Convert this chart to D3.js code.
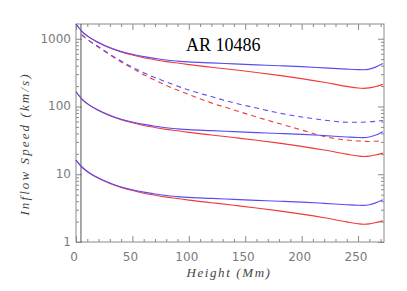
<!DOCTYPE html>
<html>
<head>
<meta charset="utf-8">
<script src="https://cdn.jsdelivr.net/npm/d3@7"></script>
<style>
  body { margin: 0; background: #fff; }
  svg { display: block; }
</style>
</head>
<body>
<svg id="chart" width="407" height="291"></svg>
<script>
// heights (Mm) for the solid curves
var heights = [0, 5, 10, 20, 30, 40, 50, 60, 70, 80, 90, 100, 120, 140, 160, 180, 200, 220, 240, 250, 255, 260, 265, 272];

var topBlue = [1650, 1300, 1100, 880, 740, 650, 590, 545, 512, 485, 468, 455, 440, 425, 412, 400, 388, 372, 356, 350, 349, 356, 378, 430];
var topRed = [1650, 1300, 1100, 870, 730, 640, 575, 525, 490, 460, 438, 415, 380, 348, 318, 288, 258, 228, 198, 187, 185, 188, 195, 212];

var midBlue = [165, 130, 110, 88, 74, 65, 59, 54.5, 51.2, 48.5, 46.8, 45.5, 44, 42.5, 41.2, 40, 38.8, 37.2, 35.5, 34.8, 34.7, 35.5, 37.5, 42.5];
var midRed = [165, 130, 110, 87, 73, 64, 57.5, 52.5, 49, 46, 43.8, 41.5, 38, 34.8, 31.8, 28.8, 25.8, 22.8, 19.8, 18.6, 18.3, 18.5, 19.2, 20.5];

var lowBlue = [16.2, 12.9, 11.0, 8.8, 7.4, 6.5, 5.9, 5.45, 5.12, 4.85, 4.68, 4.55, 4.4, 4.25, 4.12, 4.0, 3.88, 3.72, 3.55, 3.48, 3.47, 3.55, 3.75, 4.2];
var lowRed = [16.2, 12.9, 11.0, 8.7, 7.3, 6.4, 5.75, 5.25, 4.9, 4.6, 4.38, 4.15, 3.8, 3.48, 3.18, 2.88, 2.58, 2.28, 1.98, 1.86, 1.83, 1.85, 1.92, 2.05];

// heights (Mm) for the dashed curves
var dashHeights = [5, 10, 20, 30, 40, 50, 60, 80, 100, 120, 140, 160, 180, 200, 220, 240, 250, 260, 272];
var dashBlue = [1150, 980, 760, 590, 470, 380, 315, 230, 175, 140, 113, 95, 80, 70, 63, 58.5, 58.5, 59.5, 62];
var dashRed = [1150, 980, 750, 580, 455, 365, 295, 205, 150, 113, 89, 70, 56, 45, 36, 32, 31, 30.5, 31.3];

var xTicks = [0, 50, 100, 150, 200, 250];
var yTicks = [1, 10, 100, 1000];
var markerHeight = 4.4;

var svg = d3.select("#chart"),
    MARGINS = { top: 24, right: 23, bottom: 49, left: 76 },
    WIDTH = 407,
    HEIGHT = 291;

var xScale = d3.scaleLinear()
    .domain([0, 273])
    .range([MARGINS.left, WIDTH - MARGINS.right]);

var yScale = d3.scaleLog()
    .domain([1, 1650])
    .range([HEIGHT - MARGINS.bottom, MARGINS.top]);

var axisColor = "#8a8a8a";

// y ticks: majors and log minors, inward on both sides
var minors = [];
[1, 10, 100, 1000].forEach(function (d) {
    for (var k = 2; k <= 9; k++) {
        if (d * k <= 1650) minors.push(d * k);
    }
});

var yAxisL = d3.axisRight(yScale).tickValues(yTicks).tickSize(6).tickFormat("");
var yAxisLm = d3.axisRight(yScale).tickValues(minors).tickSize(3).tickFormat("");
var yAxisR = d3.axisLeft(yScale).tickValues(yTicks).tickSize(6).tickFormat("");
var yAxisRm = d3.axisLeft(yScale).tickValues(minors).tickSize(3).tickFormat("");

svg.append("g").attr("transform", "translate(" + MARGINS.left + ",0)").call(yAxisL);
svg.append("g").attr("transform", "translate(" + MARGINS.left + ",0)").call(yAxisLm);
svg.append("g").attr("transform", "translate(" + (WIDTH - MARGINS.right) + ",0)").call(yAxisR);
svg.append("g").attr("transform", "translate(" + (WIDTH - MARGINS.right) + ",0)").call(yAxisRm);

// x ticks: majors every 50, minors every 10
var xMinor = d3.range(0, 273, 10).filter(function (d) { return d % 50 !== 0; });
var xAxisB = d3.axisTop(xScale).tickValues(xTicks).tickSize(6).tickFormat("");
var xAxisBm = d3.axisTop(xScale).tickValues(xMinor).tickSize(3).tickFormat("");
var xAxisT = d3.axisBottom(xScale).tickValues(xTicks).tickSize(6).tickFormat("");
var xAxisTm = d3.axisBottom(xScale).tickValues(xMinor).tickSize(3).tickFormat("");

svg.append("g").attr("transform", "translate(0," + (HEIGHT - MARGINS.bottom) + ")").call(xAxisB);
svg.append("g").attr("transform", "translate(0," + (HEIGHT - MARGINS.bottom) + ")").call(xAxisBm);
svg.append("g").attr("transform", "translate(0," + MARGINS.top + ")").call(xAxisT);
svg.append("g").attr("transform", "translate(0," + MARGINS.top + ")").call(xAxisTm);

svg.selectAll(".domain").remove();
svg.selectAll(".tick line").attr("stroke", axisColor);

// plot box
svg.append("rect")
    .attr("x", MARGINS.left)
    .attr("y", MARGINS.top)
    .attr("width", WIDTH - MARGINS.left - MARGINS.right)
    .attr("height", HEIGHT - MARGINS.top - MARGINS.bottom)
    .attr("fill", "none")
    .attr("stroke", axisColor);

// tick labels
svg.selectAll(".ylab")
    .data(yTicks)
    .enter().append("text")
    .attr("x", MARGINS.left - 5)
    .attr("y", function (d) { return yScale(d) + 4; })
    .attr("text-anchor", "end")
    .attr("font-family", "DejaVu Sans")
    .attr("font-size", 12)
    .attr("fill", "#7a7a7a")
    .text(function (d) { return d; });

svg.selectAll(".xlab")
    .data(xTicks)
    .enter().append("text")
    .attr("x", function (d) { return xScale(d) - 2; })
    .attr("y", HEIGHT - MARGINS.bottom + 19)
    .attr("text-anchor", "middle")
    .attr("font-family", "DejaVu Sans")
    .attr("font-size", 12)
    .attr("fill", "#7a7a7a")
    .text(function (d) { return d; });

// axis titles
svg.append("text")
    .attr("x", 229)
    .attr("y", 277)
    .attr("text-anchor", "middle")
    .attr("font-family", "Liberation Serif")
    .attr("font-style", "italic")
    .attr("font-size", 13)
    .attr("letter-spacing", 1.6)
    .attr("fill", "#444")
    .text("Height (Mm)");

svg.append("text")
    .attr("transform", "translate(29,144) rotate(-90)")
    .attr("text-anchor", "middle")
    .attr("font-family", "Liberation Serif")
    .attr("font-style", "italic")
    .attr("font-size", 13)
    .attr("letter-spacing", 2.1)
    .attr("fill", "#444")
    .text("Inflow Speed (km/s)");

svg.append("text")
    .attr("x", 186)
    .attr("y", 51)
    .attr("font-family", "Liberation Serif")
    .attr("font-size", 18)
    .attr("fill", "#000")
    .text("AR 10486");

// vertical marker line
svg.append("line")
    .attr("x1", xScale(markerHeight))
    .attr("x2", xScale(markerHeight))
    .attr("y1", MARGINS.top)
    .attr("y2", HEIGHT - MARGINS.bottom)
    .attr("stroke", "#555")
    .attr("stroke-width", 1);

var lineGen = d3.line()
    .x(function (d) { return xScale(d[0]); })
    .y(function (d) { return yScale(d[1]); })
    .curve(d3.curveMonotoneX);

function pairs(xs, ys) {
    return xs.map(function (x, i) { return [x, ys[i]]; });
}

var RED = "#f03a3a", BLUE = "#5a4cf2";

var series = [
    [heights, topRed, RED, null],
    [heights, midRed, RED, null],
    [heights, lowRed, RED, null],
    [dashHeights, dashRed, RED, "5,4"],
    [heights, topBlue, BLUE, null],
    [heights, midBlue, BLUE, null],
    [heights, lowBlue, BLUE, null],
    [dashHeights, dashBlue, BLUE, "5,4"]
];

series.forEach(function (s) {
    svg.append("path")
        .attr("d", lineGen(pairs(s[0], s[1])))
        .attr("fill", "none")
        .attr("stroke", s[2])
        .attr("stroke-width", 1.1)
        .attr("stroke-dasharray", s[3]);
});
</script>
</body>
</html>
